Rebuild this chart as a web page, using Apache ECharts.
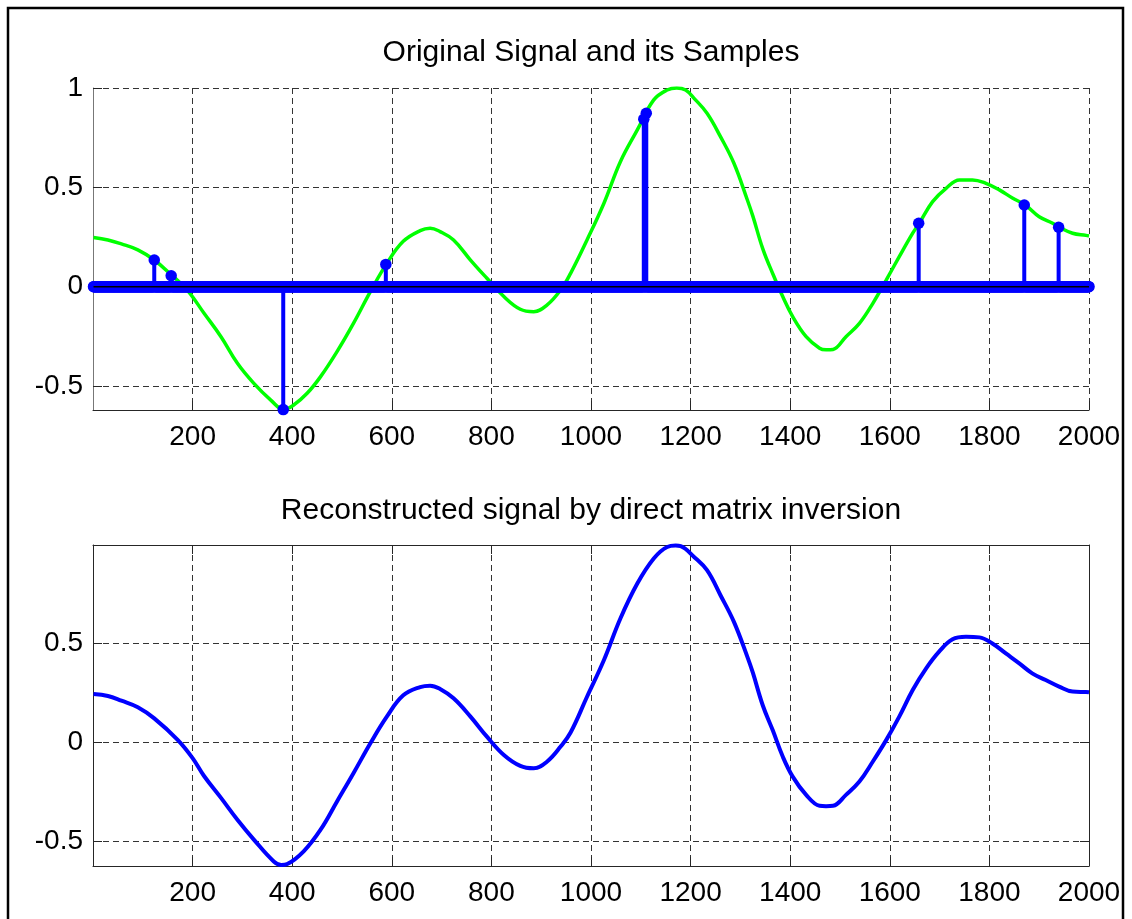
<!DOCTYPE html>
<html>
<head>
<meta charset="utf-8">
<script src="https://cdn.jsdelivr.net/npm/echarts@6/dist/echarts.min.js"></script>
<style>
  html, body { margin: 0; padding: 0; background: #ffffff; }
  #chart { width: 1132px; height: 919px; }
</style>
</head>
<body>
<div id="chart"></div>
<script>
// Original signal (green curve)
const origX = [1, 30, 57, 90, 123, 157, 190, 223, 257, 290, 323, 357, 383, 403, 430, 457, 490, 523, 557, 590,
  623, 657, 677, 697, 724, 758, 791, 825, 858, 885, 912, 939, 959, 992, 1026, 1059, 1093, 1126, 1153, 1172,
  1190, 1207, 1233, 1260, 1287, 1314, 1325, 1345, 1365, 1385, 1405, 1432, 1459, 1472, 1486, 1512, 1539, 1566, 1593, 1619,
  1646, 1659, 1686, 1713, 1740, 1766, 1793, 1820, 1847, 1872, 1900, 1927, 1940, 1967, 1994, 2000];
const origY = [0.247, 0.235, 0.215, 0.185, 0.134, 0.06, -0.02, -0.134, -0.252, -0.386, -0.487, -0.571, -0.618, -0.596, -0.537, -0.453, -0.327, -0.185, -0.025, 0.117,
  0.228, 0.282, 0.294, 0.277, 0.235, 0.134, 0.042, -0.05, -0.114, -0.126, -0.092, -0.017, 0.067, 0.235, 0.42, 0.629, 0.789, 0.94, 0.99, 1.0,
  0.99, 0.948, 0.873, 0.755, 0.621, 0.436, 0.355, 0.19, 0.065, -0.05, -0.151, -0.252, -0.31, -0.318, -0.316, -0.252, -0.185, -0.084, 0.034, 0.151,
  0.269, 0.319, 0.428, 0.495, 0.537, 0.537, 0.52, 0.487, 0.445, 0.411, 0.352, 0.319, 0.299, 0.269, 0.258, 0.255];

// Samples taken from the signal; every other position of the sample vector is zero
const signalLength = 2000;
const sampleX = [123, 157, 382, 588, 1106, 1111, 1658, 1870, 1939];
const sampleY = [0.134, 0.055, -0.619, 0.112, 0.843, 0.873, 0.319, 0.411, 0.299];

// Signal reconstructed by direct matrix inversion (blue curve)
const recX = [1, 30, 57, 90, 123, 170, 200, 223, 257, 290, 323, 363, 378, 390, 423, 457, 490, 523, 557, 590,
  623, 657, 677, 697, 724, 758, 791, 825, 858, 885, 912, 939, 959, 992, 1026, 1059, 1093, 1126, 1153, 1170,
  1180, 1207, 1233, 1260, 1287, 1314, 1325, 1345, 1365, 1385, 1405, 1432, 1459, 1472, 1486, 1512, 1539, 1566, 1593, 1619,
  1646, 1673, 1699, 1726, 1753, 1780, 1806, 1833, 1860, 1886, 1913, 1940, 1967, 1994, 2000];
const recY = [0.243, 0.233, 0.209, 0.176, 0.12, 0.012, -0.08, -0.17, -0.28, -0.39, -0.49, -0.6, -0.618, -0.613, -0.549, -0.44, -0.298, -0.156, -0.005, 0.129,
  0.236, 0.278, 0.285, 0.268, 0.221, 0.129, 0.028, -0.064, -0.119, -0.131, -0.097, -0.022, 0.049, 0.229, 0.414, 0.623, 0.799, 0.925, 0.983, 0.99,
  0.987, 0.933, 0.866, 0.74, 0.606, 0.43, 0.35, 0.185, 0.06, -0.072, -0.173, -0.265, -0.32, -0.322, -0.32, -0.265, -0.198, -0.097, 0.012, 0.129,
  0.263, 0.372, 0.456, 0.518, 0.531, 0.528, 0.497, 0.447, 0.397, 0.347, 0.313, 0.28, 0.255, 0.253, 0.252];

// Tick values
const xTicks = [200, 400, 600, 800, 1000, 1200, 1400, 1600, 1800, 2000];
const yTicksTop = [-0.5, 0, 0.5, 1];
const yTicksBottom = [-0.5, 0, 0.5];

// Axis limits
const xRange = [0, 2000];
const yRangeTop = [-0.621, 1.0];
const yRangeBottom = [-0.623, 0.993];

const FONT = '"Liberation Sans", Arial, Helvetica, sans-serif';
const AXIS_COLOR = '#262626';
const GRID_COLOR = '#333333';
const TICK_FONT_SIZE = 28;
const TITLE_FONT_SIZE = 30;

const zip = (xs, ys) => xs.map((x, i) => [x, ys[i]]);
const plainNumber = (v) => String(v);

// Full stem vector: zeros with the sampled values inserted
const stemVector = [];
for (let n = 1; n <= signalLength; n++) stemVector.push([n, 0]);
sampleX.forEach((x, k) => { stemVector[x - 1][1] = sampleY[k]; });

function xAxisBase(gridIndex, showLabels, showSplit, position) {
  return {
    type: 'value', gridIndex, position,
    min: xRange[0], max: xRange[1],
    axisLine: { show: true, onZero: false, lineStyle: { color: AXIS_COLOR, width: 1 } },
    axisTick: { show: true, inside: true, length: 9, customValues: xTicks, lineStyle: { color: AXIS_COLOR, width: 1 } },
    axisLabel: { show: showLabels, customValues: xTicks, formatter: plainNumber, margin: 13, color: '#000', fontSize: TICK_FONT_SIZE, fontFamily: FONT },
    splitLine: { show: showSplit, lineStyle: { color: GRID_COLOR, width: 1, type: [6, 4] } }
  };
}

function yAxisBase(gridIndex, range, ticks, showLabels, showSplit, position, lineColor) {
  return {
    type: 'value', gridIndex, position,
    min: range[0], max: range[1],
    axisLine: { show: true, onZero: false, lineStyle: { color: lineColor, width: 1 } },
    axisTick: { show: true, inside: true, length: 9, customValues: ticks, lineStyle: { color: AXIS_COLOR, width: 1 } },
    axisLabel: { show: showLabels, customValues: ticks, formatter: plainNumber, margin: 10, color: '#000', fontSize: TICK_FONT_SIZE, fontFamily: FONT },
    splitLine: { show: showSplit, lineStyle: { color: GRID_COLOR, width: 1, type: [6, 4] } }
  };
}

const chart = echarts.init(document.getElementById('chart'), null, { renderer: 'canvas' });

const option = {
  backgroundColor: '#ffffff',
  animation: false,
  title: [
    {
      text: 'Original Signal and its Samples',
      left: 591, top: 53, padding: 0,
      textAlign: 'center', textVerticalAlign: 'middle',
      textStyle: { color: '#000', fontSize: TITLE_FONT_SIZE, fontWeight: 'normal', fontFamily: FONT }
    },
    {
      text: 'Reconstructed signal by direct matrix inversion',
      left: 591, top: 511, padding: 0,
      textAlign: 'center', textVerticalAlign: 'middle',
      textStyle: { color: '#000', fontSize: TITLE_FONT_SIZE, fontWeight: 'normal', fontFamily: FONT }
    }
  ],
  grid: [
    { left: 93, top: 88, width: 996, height: 322 },
    { left: 93, top: 545, width: 996, height: 321 }
  ],
  xAxis: [
    xAxisBase(0, true, true, 'bottom'),
    xAxisBase(1, true, true, 'bottom'),
    xAxisBase(1, false, false, 'top')
  ],
  yAxis: [
    yAxisBase(0, yRangeTop, yTicksTop, true, true, 'left', '#777777'),
    yAxisBase(1, yRangeBottom, yTicksBottom, true, true, 'left', AXIS_COLOR),
    yAxisBase(1, yRangeBottom, yTicksBottom, false, false, 'right', AXIS_COLOR)
  ],
  graphic: [
    {
      type: 'rect', silent: true, z: 100,
      shape: { x: 8, y: 8, width: 1115, height: 940 },
      style: { fill: null, stroke: '#000', lineWidth: 2.5 }
    }
  ],
  series: [
    {
      name: 'signal', type: 'line', xAxisIndex: 0, yAxisIndex: 0,
      data: zip(origX, origY), smooth: 0.4, showSymbol: false, z: 2,
      lineStyle: { color: '#00ff00', width: 3.5 }
    },
    {
      name: 'stems', type: 'custom', xAxisIndex: 0, yAxisIndex: 0, z: 3,
      data: zip(sampleX, sampleY),
      renderItem: function (params, api) {
        const p0 = api.coord([api.value(0), 0]);
        const p1 = api.coord([api.value(0), api.value(1)]);
        return {
          type: 'line',
          shape: { x1: p0[0], y1: p0[1], x2: p1[0], y2: p1[1] },
          style: { stroke: '#0000ff', lineWidth: 4 }
        };
      }
    },
    {
      name: 'markers', type: 'scatter', xAxisIndex: 0, yAxisIndex: 0, z: 4,
      data: stemVector, symbol: 'circle', symbolSize: 11.5, silent: true,
      itemStyle: { color: '#0000ff', opacity: 1 }
    },
    {
      name: 'baseline', type: 'line', xAxisIndex: 0, yAxisIndex: 0, z: 5,
      data: [[1, 0], [signalLength, 0]], showSymbol: false,
      lineStyle: { color: '#000000', width: 1.5 }
    },
    {
      name: 'reconstructed', type: 'line', xAxisIndex: 1, yAxisIndex: 1,
      data: zip(recX, recY), smooth: 0.4, showSymbol: false, z: 2,
      lineStyle: { color: '#0000ff', width: 4 }
    }
  ]
};

chart.setOption(option);
</script>
</body>
</html>
